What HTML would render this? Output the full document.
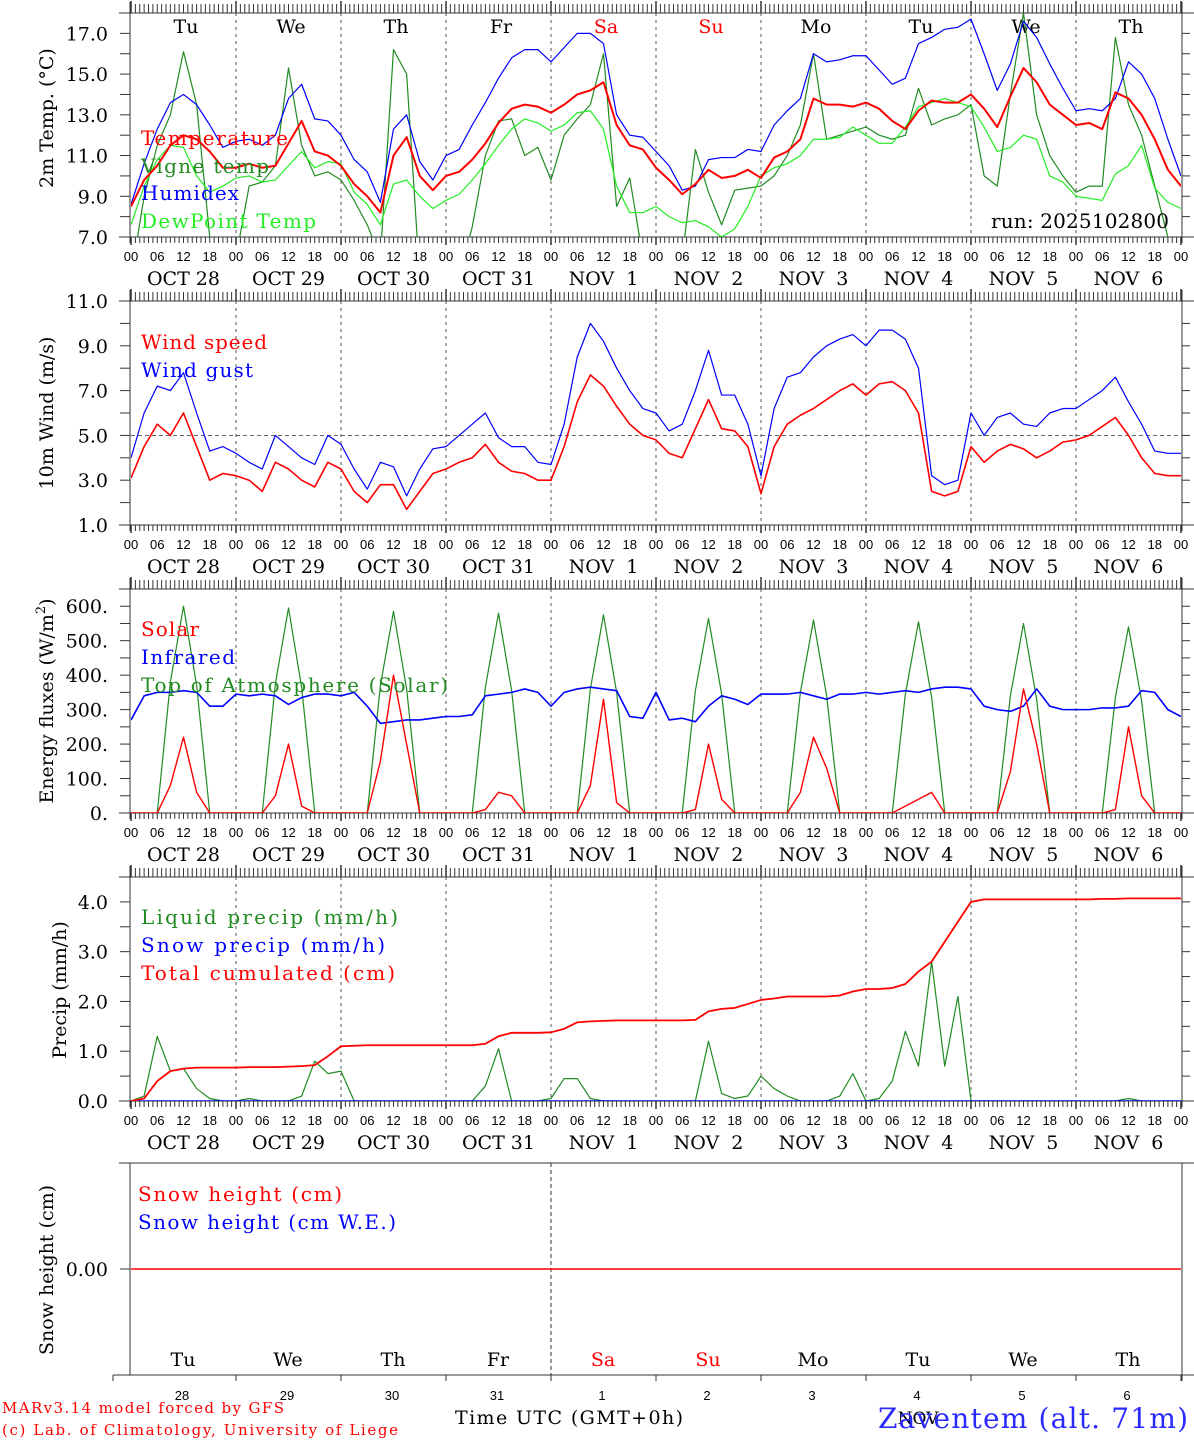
<!DOCTYPE html>
<html><head><meta charset="utf-8"><style>
html,body{margin:0;padding:0;background:#fff;}
svg{display:block;font-family:"DejaVu Serif","Liberation Serif",serif;}
</style></head>
<body>
<svg id="chart" width="1194" height="1440" viewBox="0 0 1194 1440" xmlns="http://www.w3.org/2000/svg">
<defs>
<clipPath id="c1"><rect x="131" y="13" width="1050" height="224"/></clipPath>
<clipPath id="c2"><rect x="131" y="301" width="1050" height="224"/></clipPath>
<clipPath id="c3"><rect x="131" y="589" width="1050" height="224"/></clipPath>
<clipPath id="c4"><rect x="131" y="877" width="1050" height="224"/></clipPath>
</defs>
<g id="axes"></g>
<g id="series"></g>
<g font-size="20">
<text x="141" y="145" fill="#ff0000" textLength="147">Temperature</text>
<text x="141" y="173" fill="#228b22" textLength="128">Vigne temp</text>
<text x="141" y="200" fill="#0000ff" textLength="98">Humidex</text>
<text x="141" y="228" fill="#22ee22" textLength="175">DewPoint Temp</text>
<text x="991" y="228" fill="#000" textLength="178">run: 2025102800</text>
<text x="141" y="349" fill="#ff0000" textLength="126">Wind speed</text>
<text x="141" y="377" fill="#0000ff" textLength="112">Wind gust</text>
<text x="141" y="636" fill="#ff0000" textLength="58">Solar</text>
<text x="141" y="664" fill="#0000ff" textLength="94">Infrared</text>
<text x="141" y="692" fill="#228b22" textLength="307">Top of Atmosphere (Solar)</text>
<text x="141" y="924" fill="#228b22" textLength="257">Liquid precip (mm/h)</text>
<text x="141" y="952" fill="#0000ff" textLength="244">Snow precip (mm/h)</text>
<text x="141" y="980" fill="#ff0000" textLength="254">Total cumulated (cm)</text>
<text x="138" y="1201" fill="#ff0000" textLength="204">Snow height (cm)</text>
<text x="138" y="1229" fill="#0000ff" textLength="258">Snow height (cm W.E.)</text>
</g>
<g font-size="19" fill="#000">
<text transform="translate(53,118) rotate(-90)" text-anchor="middle">2m Temp. (°C)</text>
<text transform="translate(53,413) rotate(-90)" text-anchor="middle">10m Wind (m/s)</text>
<text transform="translate(53,701) rotate(-90)" text-anchor="middle">Energy fluxes (W/m<tspan font-size="13" dy="-8">2</tspan><tspan dy="8">)</tspan></text>
<text transform="translate(66,990) rotate(-90)" text-anchor="middle">Precip (mm/h)</text>
<text transform="translate(53,1270) rotate(-90)" text-anchor="middle">Snow height (cm)</text>
</g>
<text x="2" y="1413" font-size="15" fill="#ff0000" textLength="282">MARv3.14 model forced by GFS</text>
<text x="2" y="1435" font-size="15" fill="#ff0000" textLength="396">(c) Lab. of Climatology, University of Liege</text>
<text x="455" y="1424" font-size="19" fill="#000" textLength="228">Time UTC (GMT+0h)</text>
<text x="918" y="1424" font-size="17" text-anchor="middle" fill="#000">NOV</text>
<text x="878" y="1428" font-size="28" fill="#2a2aff" textLength="310">Zaventem (alt. 71m)</text>
</svg>
<script>
// ---- data (3-hourly, starting Oct 28 00 UTC) ----
const dayNames = ["Tu","We","Th","Fr","Sa","Su","Mo","Tu","We","Th"];
const dayDates = ["OCT 28","OCT 29","OCT 30","OCT 31","NOV  1","NOV  2","NOV  3","NOV  4","NOV  5","NOV  6"];
const dayNums = ["28","29","30","31","1","2","3","4","5","6"];
const hourLabels = ["00","06","12","18"];
const temperature = [8.5,9.8,10.5,11.5,12.0,11.8,11.2,10.4, 10.4,10.6,10.4,10.5,11.6,12.7,11.2,11.0, 10.5,9.6,9.0,8.2,11.0,11.9,10.0,9.3, 10.0,10.2,10.8,11.6,12.6,13.3,13.5,13.4, 13.1,13.5,14.0,14.2,14.6,12.5,11.5,11.3, 10.4,9.8,9.1,9.6,10.3,9.9,10.0,10.3, 9.9,10.9,11.2,11.8,13.8,13.5,13.5,13.4, 13.6,13.3,12.7,12.3,13.2,13.7,13.6,13.6, 14.0,13.3,12.4,13.9,15.3,14.6,13.5,13.0, 12.5,12.6,12.3,14.1,13.8,13.0,11.8,10.3, 9.5];
const humidex = [8.6,10.6,12.3,13.6,14.0,13.5,12.5,11.4, 11.7,11.8,11.5,12.0,13.8,14.5,12.8,12.7, 12.0,10.8,10.2,8.7,12.3,13.0,10.7,9.8, 11.0,11.3,12.5,13.6,14.8,15.8,16.2,16.2, 15.6,16.3,17.0,17.0,16.5,13.0,12.0,11.9, 11.2,10.5,9.3,9.5,10.8,10.9,10.9,11.3, 11.2,12.5,13.2,13.8,16.0,15.6,15.7,15.9, 15.9,15.2,14.5,14.8,16.5,16.8,17.2,17.3, 17.7,16.0,14.2,15.5,17.6,16.8,15.5,14.3, 13.2,13.3,13.2,13.8,15.6,15.0,13.8,11.8, 10.0];
const dewpoint = [7.6,9.5,10.8,11.5,11.4,10.0,9.2,9.5, 9.9,10.0,9.7,9.8,10.5,11.2,10.4,10.7, 10.6,9.2,8.6,7.6,9.6,9.8,9.0,8.4, 8.8,9.1,9.8,10.6,11.5,12.3,12.8,12.6, 12.2,12.5,13.1,13.2,12.3,9.5,8.2,8.2, 8.5,8.0,7.7,7.8,7.5,7.0,7.4,8.5, 10.0,10.4,10.6,11.0,11.8,11.8,11.9,12.4, 12.0,11.6,11.6,12.4,13.4,13.6,13.8,13.6, 13.4,12.4,11.2,11.4,12.0,11.8,10.0,9.7, 9.0,8.9,8.8,10.1,10.5,11.5,9.4,8.7, 8.4];
const vigne = [5.0,9.0,11.5,13.0,16.1,13.5,7.0,4.0, 6.0,9.5,9.7,10.5,15.3,11.5,10.0,10.2, 9.8,8.8,7.6,6.0,16.2,15.0,5.0,3.0, 4.0,5.0,7.5,11.0,12.7,12.8,11.0,11.4, 9.8,12.0,12.8,13.5,16.0,8.5,9.9,6.0, 4.0,3.5,6.0,11.3,9.2,7.6,9.3,9.4, 9.5,10.0,11.0,12.5,16.0,11.8,12.0,12.2, 12.4,12.0,11.8,12.0,14.3,12.5,12.8,13.0, 13.5,10.0,9.5,14.0,18.0,13.0,11.0,10.0, 9.2,9.5,9.5,16.8,13.5,12.0,9.5,7.0, 6.5];
const windSpeed = [3.1,4.5,5.5,5.0,6.0,4.5,3.0,3.3, 3.2,3.0,2.5,3.8,3.5,3.0,2.7,3.8, 3.5,2.5,2.0,2.8,2.8,1.7,2.5,3.3, 3.5,3.8,4.0,4.6,3.8,3.4,3.3,3.0, 3.0,4.5,6.5,7.7,7.2,6.3,5.5,5.0, 4.8,4.2,4.0,5.3,6.6,5.3,5.2,4.5, 2.4,4.5,5.5,5.9,6.2,6.6,7.0,7.3, 6.8,7.3,7.4,7.0,6.0,2.5,2.3,2.5, 4.5,3.8,4.3,4.6,4.4,4.0,4.3,4.7, 4.8,5.0,5.4,5.8,5.0,4.0,3.3,3.2, 3.2];
const windGust = [4.0,6.0,7.2,7.0,7.8,6.0,4.3,4.5, 4.2,3.8,3.5,5.0,4.5,4.0,3.7,5.0, 4.6,3.5,2.6,3.8,3.6,2.3,3.5,4.4, 4.5,5.0,5.5,6.0,4.9,4.5,4.5,3.8, 3.7,5.5,8.5,10.0,9.2,8.0,7.0,6.2, 6.0,5.2,5.5,7.0,8.8,6.8,6.8,5.5, 3.2,6.2,7.6,7.8,8.5,9.0,9.3,9.5, 9.0,9.7,9.7,9.3,8.0,3.2,2.8,3.0, 6.0,5.0,5.8,6.0,5.5,5.4,6.0,6.2, 6.2,6.6,7.0,7.6,6.5,5.5,4.3,4.2, 4.2];
const solar = [0,0,0,80,220,60,0,0, 0,0,0,50,200,20,0,0, 0,0,0,150,400,200,0,0, 0,0,0,10,60,50,0,0, 0,0,0,80,330,30,0,0, 0,0,0,10,200,40,0,0, 0,0,0,60,220,130,0,0, 0,0,0,20,40,60,0,0, 0,0,0,120,360,200,0,0, 0,0,0,10,250,50,0,0, 0];
const toa = [0,0,0,380,600,370,0,0, 0,0,0,375,595,365,0,0, 0,0,0,370,585,360,0,0, 0,0,0,365,580,355,0,0, 0,0,0,360,575,350,0,0, 0,0,0,355,565,345,0,0, 0,0,0,350,560,340,0,0, 0,0,0,345,555,335,0,0, 0,0,0,340,550,330,0,0, 0,0,0,335,540,325,0,0, 0];
const infrared = [270,340,350,350,355,350,310,310, 345,340,345,340,315,335,345,345, 340,350,310,260,265,270,270,275, 280,280,285,340,345,350,360,350, 310,350,360,365,360,355,280,275, 350,270,275,265,310,340,330,315, 345,345,345,350,340,330,345,345, 350,345,350,355,350,360,365,365, 360,310,300,295,310,360,310,300, 300,300,305,305,310,355,350,300, 280];
const liquid = [0,0.1,1.3,0.6,0.65,0.25,0.05,0, 0,0.05,0,0,0,0.1,0.8,0.55, 0.6,0,0,0,0,0,0,0, 0,0,0,0.3,1.05,0,0,0, 0.05,0.45,0.45,0.05,0,0,0,0, 0,0,0,0,1.2,0.15,0.05,0.1, 0.5,0.25,0.1,0,0,0,0.1,0.55, 0,0.05,0.4,1.4,0.7,2.8,0.7,2.1, 0,0,0,0,0,0,0,0, 0,0,0,0,0.05,0,0,0, 0];
const snowPrecip = [0,0,0,0,0,0,0,0, 0,0,0,0,0,0,0,0, 0,0,0,0,0,0,0,0, 0,0,0,0,0,0,0,0, 0,0,0,0,0,0,0,0, 0,0,0,0,0,0,0,0, 0,0,0,0,0,0,0,0, 0,0,0,0,0,0,0,0, 0,0,0,0,0,0,0,0, 0,0,0,0,0,0,0,0, 0];
const cumulated = [0,0.05,0.4,0.6,0.65,0.67,0.67,0.67, 0.67,0.68,0.68,0.68,0.69,0.7,0.72,0.9, 1.1,1.11,1.12,1.12,1.12,1.12,1.12,1.12, 1.12,1.12,1.12,1.15,1.3,1.37,1.37,1.37, 1.38,1.45,1.58,1.6,1.61,1.62,1.62,1.62, 1.62,1.62,1.62,1.63,1.8,1.85,1.87,1.95, 2.03,2.06,2.1,2.1,2.1,2.1,2.12,2.2, 2.25,2.25,2.27,2.35,2.6,2.8,3.2,3.6, 4.0,4.05,4.05,4.05,4.05,4.05,4.05,4.05, 4.05,4.05,4.06,4.06,4.07,4.07,4.07,4.07, 4.07];
const snowHeight = [0,0];
const tempTicks = [7,9,11,13,15,17];
const windTicks = [1,3,5,7,9,11];
const energyTicks = [0,100,200,300,400,500,600];
const precipTicks = [0,1,2,3,4];

const NS = "http://www.w3.org/2000/svg";
const X0 = 131, X1 = 1181;
function xs(h){ return X0 + h * (X1 - X0) / 240; }
const panels = [
  {top:13, bottom:237, min:7, max:18, clip:"c1"},
  {top:301, bottom:525, min:1, max:11, clip:"c2"},
  {top:589, bottom:813, min:0, max:650, clip:"c3"},
  {top:877, bottom:1101, min:0, max:4.5, clip:"c4"},
  {top:1163, bottom:1375, min:-1, max:1, clip:null}
];
function ys(p, v){ return p.bottom - (v - p.min) / (p.max - p.min) * (p.bottom - p.top); }
const axes = document.getElementById("axes");
const ser = document.getElementById("series");
function el(tag, attrs, parent){
  const e = document.createElementNS(NS, tag);
  for (const k in attrs) e.setAttribute(k, attrs[k]);
  parent.appendChild(e);
  return e;
}
function line(x1,y1,x2,y2,parent,extra){
  const a = {x1:x1,y1:y1,x2:x2,y2:y2,stroke:"#333","stroke-width":1};
  if (extra) for (const k in extra) a[k]=extra[k];
  return el("line", a, parent);
}
function txt(x,y,s,parent,extra){
  const a = {x:x,y:y,"text-anchor":"middle",fill:"#000"};
  if (extra) for (const k in extra) a[k]=extra[k];
  const t = el("text", a, parent);
  t.textContent = s;
  return t;
}

const tickSets = [tempTicks, windTicks, energyTicks, precipTicks];
const minorStep = [1, 1, 50, 0.5];
const fmt = [v=>v.toFixed(1), v=>v.toFixed(1), v=>v.toFixed(0)+".", v=>v.toFixed(1)];
for (let pi=0; pi<4; pi++){
  const p = panels[pi];
  const g = el("g", {}, axes);
  
  
  line(119, p.top, 1194, p.top, g);
  line(119, p.bottom, 1194, p.bottom, g);
  line(130, p.top-11, 130, p.bottom+6, g);
  line(1182, p.top-11, 1182, p.bottom+6, g);
  for (let h=0; h<=240; h++){
    const x = xs(h);
    const isDay = h % 24 === 0;
    line(x, p.top - (isDay ? 12 : 9), x, p.top, g, {"stroke-width": isDay?1.5:1});
    line(x, p.bottom, x, p.bottom + (isDay ? 8 : 6), g, {"stroke-width": isDay?1.5:1});
  }
  for (let d=1; d<10; d++){
    line(xs(d*24), p.top, xs(d*24), p.bottom, g, {"stroke":"#555","stroke-dasharray":"3,4"});
  }
  for (let v=p.min; v<=p.max+1e-9; v+=minorStep[pi]){
    line(120, ys(p,v), 130, ys(p,v), g);
    line(1182, ys(p,v), 1190, ys(p,v), g);
  }
  tickSets[pi].forEach(v=>{
    const t = txt(108, ys(p,v)+7, fmt[pi](v), g, {"text-anchor":"end","font-size":"19"});
    
    
  });
  for (let d=0; d<=10; d++){
    hourLabels.forEach((lab, k)=>{
      if (d === 10 && k > 0) return;
      const t = txt(xs(d*24 + k*6), p.bottom+24, lab, g, {"font-size":"13","font-family":"Liberation Sans, sans-serif"});
      
      
    });
  }
  dayDates.forEach((s, d)=>{
    const t = txt(xs(d*24+12), p.bottom+48, s, g, {"font-size":"19"});
    
    
    t.style.whiteSpace = "pre";
  });
}
dayNames.forEach((s,d)=>{
  const t = txt(xs(d*24)+55, 33, s, axes, {"font-size":"19", fill: (d===4||d===5)?"#ff0000":"#000"});
  
  
});
const ref = line(X0, ys(panels[1],5), X1, ys(panels[1],5), axes, {"stroke":"#333","stroke-dasharray":"4,3","stroke-width":0.8});



{
  const p = panels[4];
  const g = el("g", {}, axes);
  
  
  line(119, p.top, 1194, p.top, g);
  line(113, p.bottom, 1194, p.bottom, g);
  line(130, p.top, 130, p.bottom, g);
  line(1182, p.top, 1182, p.bottom+6, g);
  line(120, ys(p,0), 130, ys(p,0), g);
  line(xs(96), p.top, xs(96), p.bottom+6, g, {"stroke":"#333","stroke-dasharray":"4,3"});
  for (let d=0; d<=10; d++) line(xs(d*24)+ (d===0?-18:0), p.bottom, xs(d*24)+(d===0?-18:0), p.bottom+6, g);
  const t0 = txt(108, ys(p,0)+7, "0.00", g, {"text-anchor":"end","font-size":"19"});
  
  
  dayNames.forEach((s,d)=>{
    const t = txt(xs(d*24)+52, 1366, s, g, {"font-size":"19", fill: (d===4||d===5)?"#ff0000":"#000"});
    
    
  });
  dayNums.forEach((s,d)=>{
    const t = txt(xs(d*24)+51, 1400, s, g, {"font-size":"13","font-family":"Liberation Sans, sans-serif"});
    
    
  });
}

function series(p, arr, color, width, name, stepH){
  const d = arr.map((v,i)=>(i?"L":"M")+xs(i*stepH).toFixed(2)+","+ys(p,v).toFixed(2)).join(" ");
  const a = {d:d, fill:"none", stroke:color, "stroke-width":width, "stroke-linejoin":"round"};
  if (p.clip) a["clip-path"] = "url(#"+p.clip+")";
  const path = el("path", a, ser);
  
  
  return path;
}
series(panels[0], vigne, "#228b22", 1.2, "vigne-temp-line", 3);
series(panels[0], dewpoint, "#22ee22", 1.2, "dewpoint-line", 3);
series(panels[0], humidex, "#0000ff", 1.2, "humidex-line", 3);
series(panels[0], temperature, "#ff0000", 2, "temperature-line", 3);
series(panels[1], windGust, "#0000ff", 1.2, "wind-gust-line", 3);
series(panels[1], windSpeed, "#ff0000", 1.6, "wind-speed-line", 3);
series(panels[2], toa, "#228b22", 1.2, "toa-solar-line", 3);
series(panels[2], infrared, "#0000ff", 1.6, "infrared-line", 3);
series(panels[2], solar, "#ff0000", 1.4, "solar-line", 3);
series(panels[3], liquid, "#228b22", 1.2, "liquid-precip-line", 3);
series(panels[3], snowPrecip, "#0000ff", 1.6, "snow-precip-line", 3);
series(panels[3], cumulated, "#ff0000", 1.8, "cumulated-precip-line", 3);
series(panels[4], snowHeight, "#ff0000", 1.4, "snow-height-line", 240);
</script>
</body></html>
